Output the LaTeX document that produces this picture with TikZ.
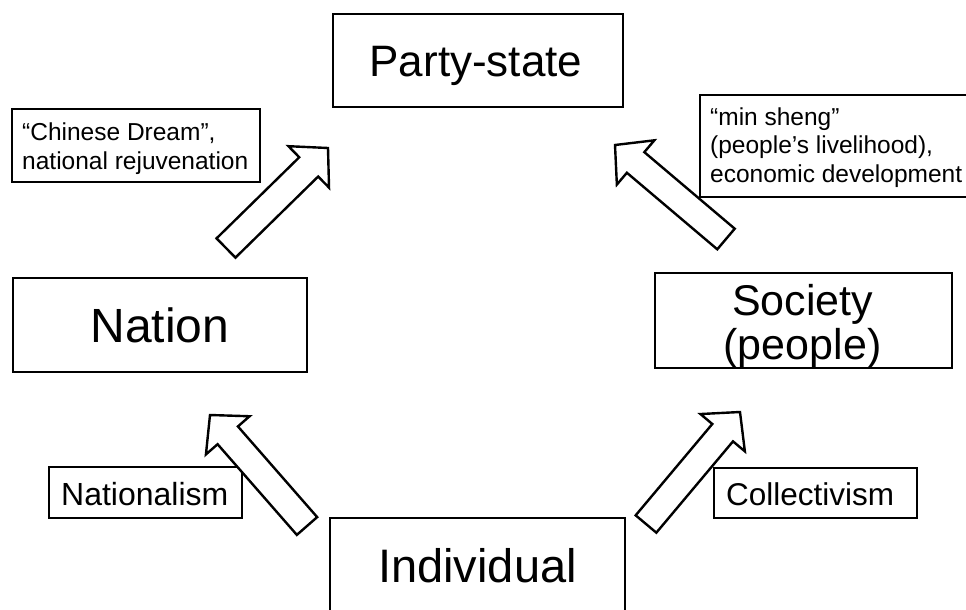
\documentclass[tikz,border=0pt]{standalone}
\usepackage{fontspec}
\setmainfont{Liberation Sans}
\usetikzlibrary{calc}
\tikzset{
  box/.style={draw=black, line width=2.6pt, fill=white, rectangle, inner sep=0pt},
  bigtxt/.style={anchor=base, inner sep=0pt},
  smalltxt/.style={anchor=base west, inner sep=0pt, font={\fontsize{24.5}{29.5}\selectfont}},
  blockarr/.style={draw=black, fill=white, line width=2.4pt, line join=miter}
}
\newcommand\myblockarrow[2]{%
  \coordinate (hb) at ($(#2)!27pt!(#1)$);
  \draw[blockarr] ($(#1)!13.5pt!90:(#2)$) -- ($(hb)!13.5pt!90:(#2)$) --
    ($(hb)!29pt!90:(#2)$) -- (#2) -- ($(hb)!29pt!-90:(#2)$) --
    ($(hb)!13.5pt!-90:(#2)$) -- ($(#1)!13.5pt!-90:(#2)$) -- cycle;
}
\begin{document}
\begin{tikzpicture}[x=1pt,y=-1pt]
\useasboundingbox (0,0) rectangle (966,610);
\clip (0,0) rectangle (966,610);
\fill[white] (0,0) rectangle (966,610);

% main boxes
\node[box, minimum width=290pt, minimum height=93pt] (ps) at (478,60.5) {};
\node[bigtxt, font={\fontsize{44}{44}\selectfont}] (pst) at (476,77) {Party-state};

\node[box, minimum width=294pt, minimum height=94pt] (nat) at (160,325) {};
\node[bigtxt, font={\fontsize{48}{48}\selectfont}] (natt) at (160,342) {Nation};

\node[box, minimum width=297pt, minimum height=95pt] (soc) at (803.5,320.5) {};
\node[bigtxt, font={\fontsize{43}{43}\selectfont}] (soct) at (802.5,315)
  {\begin{tabular}[t]{@{}c@{}}Society\\(people)\end{tabular}};

\node[box, minimum width=295pt, minimum height=96pt] (ind) at (477.5,566) {};
\node[bigtxt, font={\fontsize{47}{47}\selectfont}] (indt) at (477.5,582) {Individual};

% label boxes
\node[box, minimum width=248pt, minimum height=73pt] (cd) at (136,145.5) {};
\node[smalltxt] (cdt) at (22,140)
  {\begin{tabular}[t]{@{}l@{}}“Chinese Dream”,\\national rejuvenation\end{tabular}};

\node[box, minimum width=276pt, minimum height=102pt] (ms) at (838,146) {};
\node[smalltxt, font={\fontsize{24.5}{28.5}\selectfont}] (mst) at (710,125)
  {\begin{tabular}[t]{@{}l@{}}“min sheng”\\(people’s livelihood),\\economic development\end{tabular}};

\node[box, minimum width=193pt, minimum height=51pt] (nl) at (145.5,492.5) {};
\node[smalltxt, font={\fontsize{32}{32}\selectfont}] (nlt) at (61,505) {Nationalism};

\node[box, minimum width=203pt, minimum height=50pt] (cl) at (815.5,493) {};
\node[smalltxt, font={\fontsize{31.5}{31.5}\selectfont}] (clt) at (726,505) {Collectivism};

% block arrows
\coordinate (a1s) at (226,248); \coordinate (a1e) at (328,148);
\coordinate (a2s) at (726,239); \coordinate (a2e) at (615,145);
\coordinate (a3s) at (307,526); \coordinate (a3e) at (210,415);
\coordinate (a4s) at (646,524); \coordinate (a4e) at (740,412);
\myblockarrow{a1s}{a1e}
\myblockarrow{a2s}{a2e}
\myblockarrow{a3s}{a3e}
\myblockarrow{a4s}{a4e}
\end{tikzpicture}
\end{document}
